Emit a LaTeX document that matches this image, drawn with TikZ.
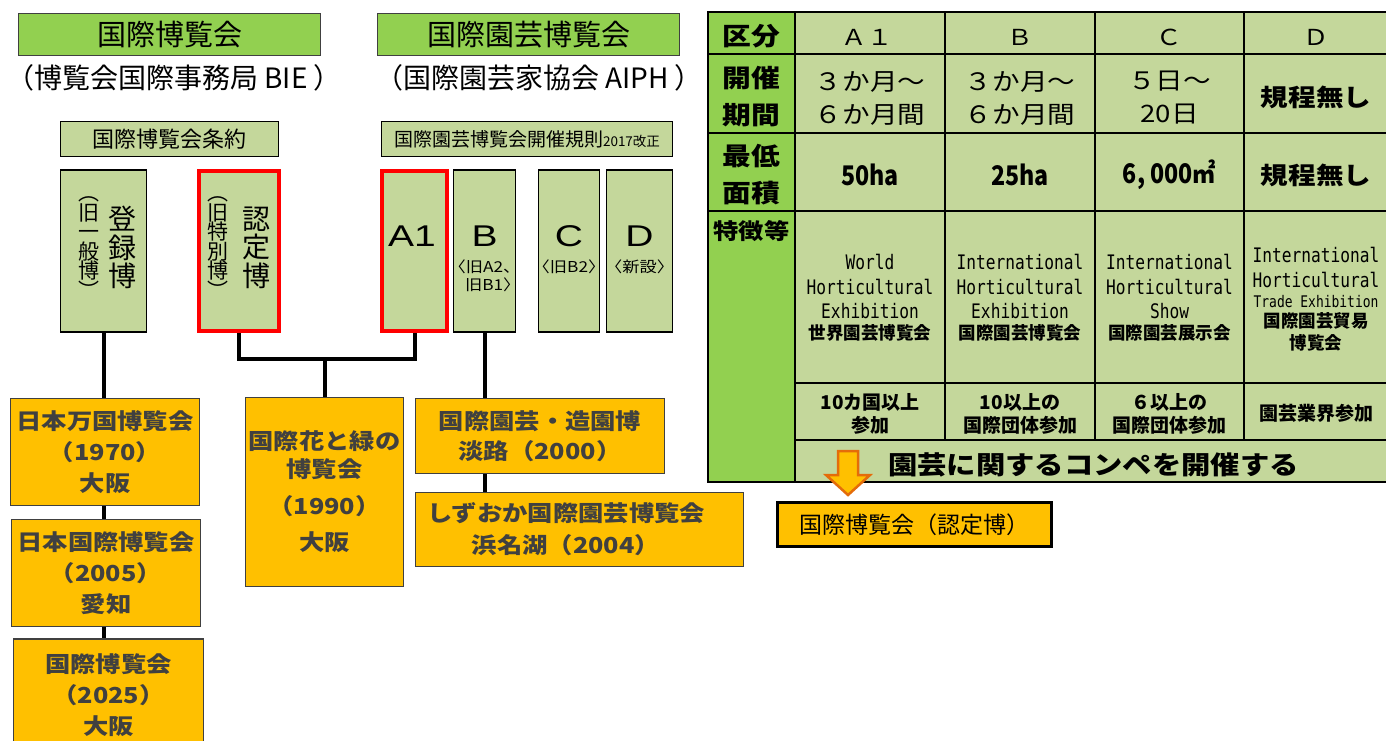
\documentclass[tikz,border=0pt]{standalone}
\usepackage{fontspec}
\setmainfont{Noto Sans CJK JP}
\newfontfamily\wfont[FakeStretch=1.15]{Noto Sans CJK JP}
\newfontfamily\nfont[FakeStretch=0.86]{Noto Sans CJK JP}
\newfontfamily\lfont[FakeStretch=1.3]{Liberation Sans}
\newfontfamily\efont[FakeStretch=0.81]{DejaVu Sans Mono}
\newcommand{\fsz}[2]{\fontsize{#1}{#2}\selectfont}
\newcommand{\fj}{\rmfamily\bfseries\fsz{17.5}{24.5}}
\definecolor{ttlgreen}{HTML}{92D050}
\definecolor{boxgreen}{HTML}{C4D79B}
\definecolor{expogold}{HTML}{FFC000}
\definecolor{arrorange}{HTML}{E46C0A}
\definecolor{txtgray}{HTML}{404040}
\begin{document}
\begin{tikzpicture}[x=1pt,y=-1pt,
  ttl/.style={draw=txtgray,line width=1.5pt,fill=ttlgreen,minimum width=302,minimum height=42,inner sep=0,font=\fsz{29}{30}},
  org/.style={font=\fsz{28}{30},inner sep=0},
  rulebox/.style={draw=black,line width=1.5pt,fill=boxgreen,minimum height=35,inner sep=0},
  colbox/.style={draw=black,line width=1.5pt,fill=boxgreen,minimum height=162,inner sep=0},
  redbox/.style={colbox,draw=red,line width=4pt,minimum height=160},
  vtxt/.style={align=center,inner sep=0},
  big/.style={font=\lfont\fsz{30}{32},inner sep=0},
  sub/.style={font=\wfont\fsz{15}{18},inner sep=0},
  expo/.style={draw=txtgray,line width=1.5pt,fill=expogold,inner sep=0,align=center,text=txtgray,font=\wfont\bfseries\fsz{22}{31}},
  conn/.style={line width=4pt},
  tline/.style={line width=2pt},
  lbl/.style={align=center,font=\wfont\bfseries\fsz{25}{37},inner sep=0},
  hdr/.style={font=\wfont\fsz{22}{24},inner sep=0},
  cell/.style={align=center,font=\wfont\fsz{24}{33},inner sep=0},
  cellb/.style={align=center,font=\wfont\bfseries\fsz{24}{33},inner sep=0},
  area/.style={font=\nfont\bfseries\fsz{27}{30},inner sep=0},
  feat/.style={align=center,font=\efont\fsz{20}{24.5},inner sep=0},
  joincell/.style={align=center,font=\bfseries\fsz{19}{23},inner sep=0}]
\useasboundingbox (0,0) rectangle (1386,740);

% organisations
\node[ttl] (bie) at (169.5,34.5) {国際博覧会};
\node[ttl] (aiph) at (528.5,34.5) {国際園芸博覧会};
\node[org] (biename) at (174,78) {（博覧会国際事務局 BIE ）};
\node[org] (aiphname) at (539,78) {（国際園芸家協会 AIPH ）};
\node[rulebox,minimum width=218,font=\fsz{22}{24}] (treaty) at (169.5,139) {国際博覧会条約};
\node[rulebox,minimum width=291] (rules) at (527,139) {\fsz{19}{22}国際園芸博覧会開催規則{\fsz{13.5}{16}2017改正}};

% categories
\node[colbox,minimum width=86] (touroku) at (103.5,251) {};
\node[redbox,minimum width=80] (nintei) at (239,251) {};
\node[redbox,minimum width=65] (a1) at (414.5,251) {};
\node[colbox,minimum width=62] (b) at (484.5,251) {};
\node[colbox,minimum width=61] (c) at (569,251) {};
\node[colbox,minimum width=66] (d) at (639.5,251) {};
\node[vtxt,font=\fsz{28}{28.5}] (touroku1) at (122,247.5) {登\\録\\博};
\node[vtxt,font=\fsz{21}{19.5}] (touroku2) at (89,247.5) {︵\\旧\\一\\般\\博\\︶};
\node[vtxt,font=\fsz{28}{28.5}] (nintei1) at (256,247.5) {認\\定\\博};
\node[vtxt,font=\fsz{21}{19.5}] (nintei2) at (218,247.5) {︵\\旧\\特\\別\\博\\︶};
\node[big] (a1name) at (412,236) {A1};
\node[big] (bname) at (484.5,236) {B};
\node[big] (cname) at (569,236) {C};
\node[big] (dname) at (639.5,236) {D};
\node[sub,align=right] (bold) at (484.5,276) {〈旧A2、\\旧B1〉};
\node[sub] (cold) at (569,267) {〈旧B2〉};
\node[sub] (dold) at (639.5,267) {〈新設〉};

% expositions
\node[expo,minimum width=189,minimum height=107] (osaka70) at (105,452) {日本万国博覧会\\（1970）\\大阪};
\node[expo,minimum width=189,minimum height=107] (aichi) at (106,573) {日本国際博覧会\\（2005）\\愛知};
\node[expo,minimum width=190,minimum height=112] (osaka25) at (108.5,695) {国際博覧会\\（2025）\\大阪};
\node[expo,minimum width=158,minimum height=189,font=\wfont\bfseries\fsz{22}{28}] (hana) at (324.5,492) {国際花と緑の\\博覧会\\[9pt]（1990）\\[8pt]大阪};
\node[expo,minimum width=249,minimum height=75,font=\wfont\bfseries\fsz{22}{30}] (zouen) at (540,436) {国際園芸・造園博\\淡路（2000）};
\node[expo,minimum width=328,minimum height=74] (shizuoka) at (579.5,529.5) {};
\node[expo,draw=none,fill=none,font=\wfont\bfseries\fsz{22}{32}] (shizuokatxt) at (566,529) {しずおか国際園芸博覧会\\浜名湖（2004）};

\coordinate (fork) at (324.5,359);
\draw[conn] (touroku.south) -- (touroku.south |- osaka70.north);
\draw[conn] (osaka70.south -| touroku) -- (aichi.north -| touroku);
\draw[conn] (aichi.south -| touroku) -- (osaka25.north -| touroku);
\draw[conn] (nintei.south) |- (fork) -| (a1.south);
\draw[conn] (fork) -- (hana.north);
\draw[conn] (b.south) -- (b.south |- zouen.north);
\draw[conn] (zouen.south -| b.south) -- (shizuoka.north -| b.south);

% table
\fill[boxgreen] (795,12) rectangle (1392,482);
\fill[ttlgreen] (708,12) rectangle (795,482);
\foreach \y in {54,133,211}
  \draw[tline] (708,\y) -- (1392,\y);
\foreach \y in {383,440}
  \draw[tline] (795,\y) -- (1392,\y);
\foreach \x in {945,1095,1244}
  \draw[tline] (\x,12) -- (\x,440);
\draw[tline] (795,12) -- (795,482);
\draw[tline] (708,12) rectangle (1392,482);

\node[lbl] (kubun) at (751.5,36) {区分};
\node[lbl] (kikan) at (751.5,96.5) {開催\\期間};
\node[lbl] (menseki) at (751.5,175) {最低\\面積};
\node[lbl,font=\wfont\bfseries\fsz{22}{24}] (tokuchou) at (751.5,231) {特徴等};
\node[hdr] (ha1) at (867,37) {Ａ１};
\node[hdr] (hb) at (1020,37) {Ｂ};
\node[hdr] (hc) at (1169.5,37) {Ｃ};
\node[hdr] (hd) at (1316,37) {Ｄ};
\node[cell] (ka1) at (870,98) {３か月～\\６か月間};
\node[cell] (kb) at (1020,98) {３か月～\\６か月間};
\node[cell] (kc) at (1169.5,98) {５日～\\20日};
\node[cellb] (kd) at (1316,97) {規程無し};
\node[area] (ma1) at (870,175) {50ha};
\node[area] (mb) at (1020,175) {25ha};
\node[area] (mc) at (1169.5,175) {6, 000㎡};
\node[cellb] (md) at (1316,175) {規程無し};
\node[feat] (fa1) at (870,298) {World\\Horticultural\\Exhibition\\[-3.5pt]{\fj 世界園芸博覧会}};
\node[feat] (fb) at (1020,298) {International\\Horticultural\\Exhibition\\[-3.5pt]{\fj 国際園芸博覧会}};
\node[feat] (fc) at (1169.5,298) {International\\Horticultural\\Show\\[-3.5pt]{\fj 国際園芸展示会}};
\node[feat] (fd) at (1316,299) {International\\Horticultural\\[-4.5pt]{\fsz{16}{20}Trade Exhibition}\\[-4.5pt]{\fj 国際園芸貿易}\\[-2.5pt]{\fj 博覧会}};
\node[joincell] (ja1) at (870,413.5) {10カ国以上\\参加};
\node[joincell] (jb) at (1020,413.5) {10以上の\\国際団体参加};
\node[joincell] (jc) at (1169.5,413.5) {６以上の\\国際団体参加};
\node[joincell] (jd) at (1316,413) {園芸業界参加};
\node[font=\wfont\bfseries\fsz{25.5}{28},inner sep=0] (compe) at (1093.5,465) {園芸に関するコンペを開催する};

% result
\node[expo,draw=black,line width=3pt,minimum width=274,minimum height=44,text=black,font=\fsz{23}{24}] (kokusai) at (914.5,524.5) {国際博覧会（認定博）};
\filldraw[draw=arrorange,fill=expogold,line width=2.5pt] (838,451) -- (858,451) -- (858,475) -- (870,475) -- (848,495) -- (826,475) -- (838,475) -- cycle;
\end{tikzpicture}
\end{document}
